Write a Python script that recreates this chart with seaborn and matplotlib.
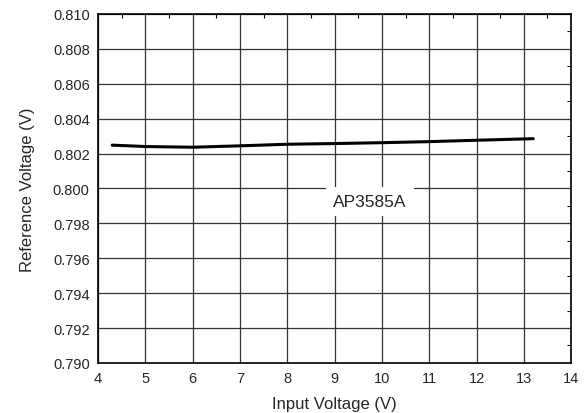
import numpy as np
import pandas as pd
import matplotlib
matplotlib.use("Agg")
import matplotlib.pyplot as plt
from matplotlib.ticker import MultipleLocator
import seaborn as sns

# values
vin = [4.3, 5.0, 6.0, 7.0, 8.0, 9.0, 10.0, 11.0, 12.0, 13.2]
vref = [0.80248, 0.80240, 0.80236, 0.80244, 0.80253, 0.80257, 0.80262, 0.80268, 0.80276, 0.80285]
label = "AP3585A"

df = pd.DataFrame({"vin": vin, "vref": vref})

sns.set_style("white")
plt.rcParams["font.family"] = ["Liberation Sans", "DejaVu Sans"]

fig = plt.figure(figsize=(5.87, 4.14), dpi=100)
ax = fig.add_axes([0.167, 0.121, 0.806, 0.843])

sns.lineplot(data=df, x="vin", y="vref", color="black", linewidth=2.2, ax=ax)

ax.set_xlim(4, 14)
ax.set_ylim(0.790, 0.810)
ax.xaxis.set_major_locator(MultipleLocator(1))
ax.xaxis.set_minor_locator(MultipleLocator(0.5))
ax.yaxis.set_major_locator(MultipleLocator(0.002))
ax.yaxis.set_minor_locator(MultipleLocator(0.001))
ax.yaxis.set_major_formatter(matplotlib.ticker.FormatStrFormatter("%.3f"))

ax.grid(True, which="major", color="#333333", linewidth=0.9)
ax.set_axisbelow(True)
ax.tick_params(which="both", direction="in", top=True, right=True, labelsize=10.5,
               color="black", length=0, pad=6)
ax.tick_params(which="minor", length=3, width=0.8)
for s in ax.spines.values():
    s.set_color("black")
    s.set_linewidth(1.2)

ax.set_xlabel("Input Voltage (V)", fontsize=12, labelpad=8)
ax.set_ylabel("Reference Voltage (V)", fontsize=12, labelpad=13)

ax.text(9.75, 0.79925, label, ha="center", va="center", fontsize=12.5,
        bbox=dict(facecolor="white", edgecolor="none", pad=5))

fig.savefig("out.png", dpi=100)
